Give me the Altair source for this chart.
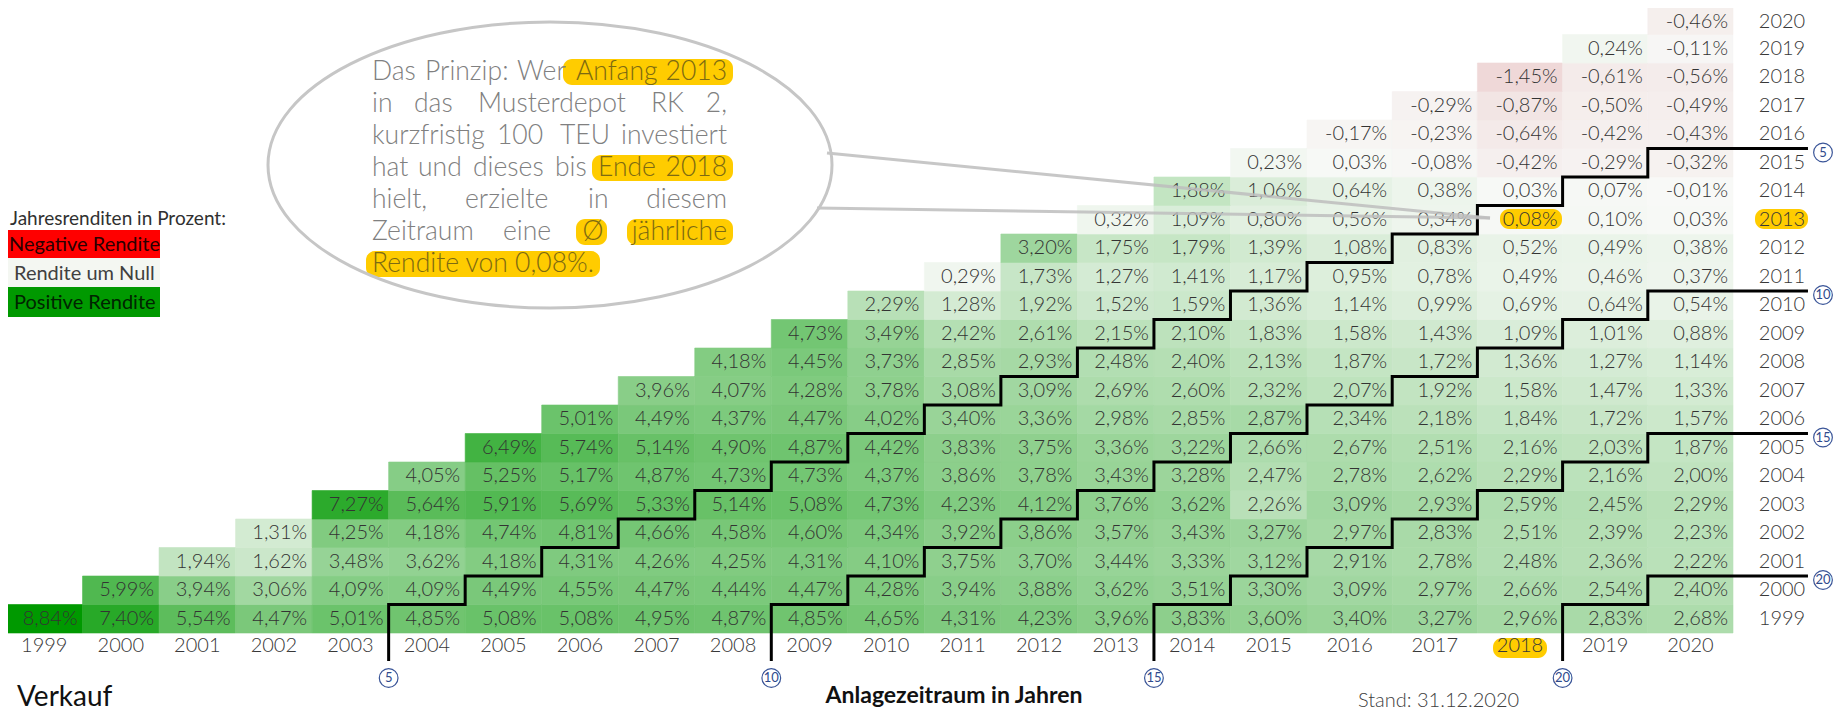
import altair as alt
import pandas as pd

# ------------------------------------------------------------------ data
sell_years = list(range(1999, 2021))
buy_years = list(range(1999, 2021))

ret_1999 = [8.84, 7.40, 5.54, 4.47, 5.01, 4.85, 5.08, 5.08, 4.95, 4.87, 4.85, 4.65, 4.31, 4.23, 3.96, 3.83, 3.60, 3.40, 3.27, 2.96, 2.83, 2.68]
ret_2000 = [5.99, 3.94, 3.06, 4.09, 4.09, 4.49, 4.55, 4.47, 4.44, 4.47, 4.28, 3.94, 3.88, 3.62, 3.51, 3.30, 3.09, 2.97, 2.66, 2.54, 2.40]
ret_2001 = [1.94, 1.62, 3.48, 3.62, 4.18, 4.31, 4.26, 4.25, 4.31, 4.10, 3.75, 3.70, 3.44, 3.33, 3.12, 2.91, 2.78, 2.48, 2.36, 2.22]
ret_2002 = [1.31, 4.25, 4.18, 4.74, 4.81, 4.66, 4.58, 4.60, 4.34, 3.92, 3.86, 3.57, 3.43, 3.27, 2.97, 2.83, 2.51, 2.39, 2.23]
ret_2003 = [7.27, 5.64, 5.91, 5.69, 5.33, 5.14, 5.08, 4.73, 4.23, 4.12, 3.76, 3.62, 2.26, 3.09, 2.93, 2.59, 2.45, 2.29]
ret_2004 = [4.05, 5.25, 5.17, 4.87, 4.73, 4.73, 4.37, 3.86, 3.78, 3.43, 3.28, 2.47, 2.78, 2.62, 2.29, 2.16, 2.00]
ret_2005 = [6.49, 5.74, 5.14, 4.90, 4.87, 4.42, 3.83, 3.75, 3.36, 3.22, 2.66, 2.67, 2.51, 2.16, 2.03, 1.87]
ret_2006 = [5.01, 4.49, 4.37, 4.47, 4.02, 3.40, 3.36, 2.98, 2.85, 2.87, 2.34, 2.18, 1.84, 1.72, 1.57]
ret_2007 = [3.96, 4.07, 4.28, 3.78, 3.08, 3.09, 2.69, 2.60, 2.32, 2.07, 1.92, 1.58, 1.47, 1.33]
ret_2008 = [4.18, 4.45, 3.73, 2.85, 2.93, 2.48, 2.40, 2.13, 1.87, 1.72, 1.36, 1.27, 1.14]
ret_2009 = [4.73, 3.49, 2.42, 2.61, 2.15, 2.10, 1.83, 1.58, 1.43, 1.09, 1.01, 0.88]
ret_2010 = [2.29, 1.28, 1.92, 1.52, 1.59, 1.36, 1.14, 0.99, 0.69, 0.64, 0.54]
ret_2011 = [0.29, 1.73, 1.27, 1.41, 1.17, 0.95, 0.78, 0.49, 0.46, 0.37]
ret_2012 = [3.20, 1.75, 1.79, 1.39, 1.08, 0.83, 0.52, 0.49, 0.38]
ret_2013 = [0.32, 1.09, 0.80, 0.56, 0.34, 0.08, 0.10, 0.03]
ret_2014 = [1.88, 1.06, 0.64, 0.38, 0.03, 0.07, -0.01]
ret_2015 = [0.23, 0.03, -0.08, -0.42, -0.29, -0.32]
ret_2016 = [-0.17, -0.23, -0.64, -0.42, -0.43]
ret_2017 = [-0.29, -0.87, -0.50, -0.49]
ret_2018 = [-1.45, -0.61, -0.56]
ret_2019 = [0.24, -0.11]
ret_2020 = [-0.46]

returns_by_buy_year = {
    1999: ret_1999, 2000: ret_2000, 2001: ret_2001, 2002: ret_2002, 2003: ret_2003,
    2004: ret_2004, 2005: ret_2005, 2006: ret_2006, 2007: ret_2007, 2008: ret_2008,
    2009: ret_2009, 2010: ret_2010, 2011: ret_2011, 2012: ret_2012, 2013: ret_2013,
    2014: ret_2014, 2015: ret_2015, 2016: ret_2016, 2017: ret_2017, 2018: ret_2018,
    2019: ret_2019, 2020: ret_2020,
}

holding_periods = [5, 10, 15, 20]

legend_labels = ["Negative Rendite", "Rendite um Null", "Positive Rendite"]
legend_colors = ["#ff0000", "#f4f7f2", "#009900"]
legend_text_colors = ["#2a0000", "#404040", "#002400"]

callout_lines = [
    "Das Prinzip: Wer Anfang 2013",
    "in das Musterdepot RK 2,",
    "kurzfristig 100 TEU investiert",
    "hat und dieses bis Ende 2018",
    "hielt, erzielte in diesem",
    "Zeitraum eine Ø jährliche",
    "Rendite von 0,08%.",
]
highlighted_words = {"Anfang", "2013", "Ende", "2018", "Ø", "jährliche", "Rendite von 0,08%."}

# ------------------------------------------------------------------ layout (pixels, chart coordinates)
W, H = 1831, 703
FONT = "Lato"
XS = alt.Scale(domain=[1998.5, 2015.5, 2020.5], range=[-2, 1299, 1725], nice=False, zero=False)
YS = alt.Scale(domain=[1998.5, 2020.5], range=[625, -2], nice=False, zero=False)
CS = alt.Scale(domain=[-8.84, 0, 8.84], range=["#c0303a", "#f8f9f7", "#009900"], interpolate="rgb")

X_EXT_RIGHT = 2021.38     # end of the staircase lines on the right
Y_EXT_BOTTOM = 1997.52    # end of the staircase lines at the bottom
ROW_LABEL_PX = 1774
RIGHT_CIRCLE_PX = 1815
BOTTOM_CIRCLE_PX = 670
XLABEL_PX = 638
TOP_ROW_NUDGE = 2         # keeps the top row's labels inside the drawing

callout_line_baselines = [72, 104, 136, 168, 200, 232, 264]
callout_word_x = [
    [364, 417, 509, 568, 719],
    [364, 406, 470, 643, 719],
    [364, 489, 552, 719],
    [364, 410, 465, 547, 590, 719],
    [364, 457, 580, 719],
    [364, 495, 585, 719],
    [364],
]
highlight_boxes = [  # x0, x1, y0, y1
    (555, 725, 51, 77), (584, 725, 147, 173), (568, 599, 211, 237),
    (619, 725, 211, 237), (358, 592, 243, 269),
    (1485, 1539, 630, 650), (1747, 1800, 201, 221), (1492, 1554, 201, 221),
]

# ------------------------------------------------------------------ tables
cell_rows = []
for b, vals in returns_by_buy_year.items():
    for i, v in enumerate(vals):
        s = b + i
        cell_rows.append(dict(buy=b, sell=s, value=v, x0=s - 0.5, x1=s + 0.5,
                              y0=b - 0.5, y1=b + 0.5,
                              label=f"{v:.2f}".replace(".", ",") + "%"))
cells = pd.DataFrame(cell_rows)

stair_rows = []
for p in holding_periods:
    pts = [(1998.5 + p, Y_EXT_BOTTOM)]
    last = 2020 - p
    for b in range(1999, last + 1):
        pts.append((b + p - 0.5, b + 0.5))
        if b < last:
            pts.append((b + p + 0.5, b + 0.5))
    pts.append((X_EXT_RIGHT, last + 0.5))
    for k, (x, y) in enumerate(pts):
        stair_rows.append(dict(period=p, idx=k, x=x, y=y))
stairs = pd.DataFrame(stair_rows)

circ = pd.DataFrame({"period": holding_periods,
                     "bx": [1998.5 + p for p in holding_periods],
                     "ry": [2020 - p + 0.5 for p in holding_periods],
                     "lab": [str(p) for p in holding_periods]})

word_rows = []
for li, line in enumerate(callout_lines):
    words = [line] if li == len(callout_lines) - 1 else line.split(" ")
    for wi, w in enumerate(words):
        if len(words) == 1:
            al = "left"
        elif w == "Ø":
            al = "center"
        elif wi == len(words) - 1:
            al = "right"
        else:
            al = "left"
        word_rows.append(dict(t=w, x=callout_word_x[li][wi], y=callout_line_baselines[li], al=al,
                              c="#7d6a12" if w in highlighted_words else "#808080"))
words_df = pd.DataFrame(word_rows)

hl_df = pd.DataFrame(highlight_boxes, columns=["x0", "x1", "y0", "y1"])

# ------------------------------------------------------------------ layers
def PX(f):
    return alt.X(f, scale=None, axis=None)


def PY(f):
    return alt.Y(f, scale=None, axis=None)


cells_layer = alt.Chart(cells).mark_rect(strokeWidth=0.6).encode(
    x=alt.X("x0:Q", scale=XS, axis=None), x2="x1:Q",
    y=alt.Y("y0:Q", scale=YS, axis=None), y2="y1:Q",
    color=alt.Color("value:Q", scale=CS, legend=None),
    stroke=alt.Stroke("value:Q", scale=CS, legend=None),
)

hl_layer = alt.Chart(hl_df).mark_rect(cornerRadius=9, color="#ffcc00").encode(
    x=PX("x0:Q"), x2="x1:Q", y=PY("y0:Q"), y2="y1:Q")

top_year = max(buy_years)


def cell_text_layer(df, nudge):
    return alt.Chart(df).mark_text(
        align="right", baseline="middle", dx=-5, dy=nudge, font=FONT, fontSize=20, fontWeight=300,
        color="#333333"
    ).encode(x=alt.X("x1:Q", scale=XS, axis=None), y=alt.Y("buy:Q", scale=YS, axis=None), text="label:N")


cell_text = cell_text_layer(cells[cells.buy != top_year], 0)
cell_text_top = cell_text_layer(cells[cells.buy == top_year], TOP_ROW_NUDGE)

xlab = alt.Chart(pd.DataFrame({"year": sell_years})).mark_text(
    align="center", baseline="middle", font=FONT, fontSize=20, fontWeight=300, color="#383838"
).encode(x=alt.X("year:Q", scale=XS, axis=None), y=alt.value(XLABEL_PX), text="year:N")

ylab_df = pd.DataFrame({"year": buy_years})


def ylab_layer(df, nudge):
    return alt.Chart(df).mark_text(
        align="center", baseline="middle", dy=nudge, font=FONT, fontSize=20, fontWeight=300, color="#383838"
    ).encode(x=alt.value(ROW_LABEL_PX), y=alt.Y("year:Q", scale=YS, axis=None), text="year:N")


ylab = ylab_layer(ylab_df[ylab_df.year != top_year], 0)
ylab_top = ylab_layer(ylab_df[ylab_df.year == top_year], TOP_ROW_NUDGE)

stair_layer = alt.Chart(stairs).mark_line(color="black", strokeWidth=3, strokeJoin="miter").encode(
    x=alt.X("x:Q", scale=XS, axis=None), y=alt.Y("y:Q", scale=YS, axis=None),
    detail="period:N", order="idx:Q")

circ_b = alt.Chart(circ).mark_point(shape="circle", size=350, filled=False, stroke="#3a5598",
                                    strokeWidth=1.2, opacity=1).encode(
    x=alt.X("bx:Q", scale=XS, axis=None), y=alt.value(BOTTOM_CIRCLE_PX))
circ_bt = alt.Chart(circ).mark_text(font=FONT, fontSize=13, color="#2f4a8c", baseline="middle").encode(
    x=alt.X("bx:Q", scale=XS, axis=None), y=alt.value(BOTTOM_CIRCLE_PX), text="lab:N")
circ_r = alt.Chart(circ).mark_point(shape="circle", size=350, filled=False, stroke="#3a5598",
                                    strokeWidth=1.2, opacity=1, yOffset=4).encode(
    x=alt.value(RIGHT_CIRCLE_PX), y=alt.Y("ry:Q", scale=YS, axis=None))
circ_rt = alt.Chart(circ).mark_text(font=FONT, fontSize=13, color="#2f4a8c", baseline="middle", yOffset=4).encode(
    x=alt.value(RIGHT_CIRCLE_PX), y=alt.Y("ry:Q", scale=YS, axis=None), text="lab:N")

# callout: pointer wedge + ellipse
pointer = pd.DataFrame({"x": [819, 809], "y": [145, 200], "x2": [1482, 1482], "y2": [210, 210]})
pointer_layer = alt.Chart(pointer).mark_rule(color="#bdbdbd", strokeWidth=3, opacity=0.85).encode(
    x=PX("x:Q"), y=PY("y:Q"), x2="x2:Q", y2="y2:Q")

k = 0.507
kk = round(k * 0.5523, 4)
ellipse_path = (f"M-1,0 C-1,{-kk} -0.5523,{-k} 0,{-k} C0.5523,{-k} 1,{-kk} 1,0 "
                f"C1,{kk} 0.5523,{k} 0,{k} C-0.5523,{k} -1,{kk} -1,0 Z")
ellipse_layer = alt.Chart(pd.DataFrame({"a": [0]})).mark_point(
    shape=ellipse_path, size=564 ** 2, filled=False, stroke="#c6c6c6", strokeWidth=3, opacity=1
).encode(x=alt.value(542), y=alt.value(157))

word_layers = []
for al in ["left", "right", "center"]:
    d = words_df[words_df.al == al]
    word_layers.append(alt.Chart(d).mark_text(
        align=al, baseline="alphabetic", font=FONT, fontSize=26.5, fontWeight=300
    ).encode(x=PX("x:Q"), y=PY("y:Q"), text="t:N", color=alt.Color("c:N", scale=None)))

# legend
leg = pd.DataFrame({"lab": legend_labels, "fill": legend_colors, "tc": legend_text_colors,
                    "y0": [222, 250, 279], "y1": [250, 279, 309], "tx": [1, 6, 6]})
leg_rect = alt.Chart(leg).mark_rect().encode(
    x=alt.value(-2), x2=alt.value(152), y=PY("y0:Q"), y2="y1:Q", color=alt.Color("fill:N", scale=None))
leg_text = alt.Chart(leg).mark_text(align="left", baseline="middle", font=FONT, fontSize=20, fontWeight=400,
                                    dy=1).transform_calculate(
    ym="(datum.y0 + datum.y1) / 2").encode(
    x=PX("tx:Q"), y=PY("ym:Q"), text="lab:N", color=alt.Color("tc:N", scale=None))
leg_title = alt.Chart(pd.DataFrame({"t": ["Jahresrenditen in Prozent:"]})).mark_text(
    align="left", baseline="middle", font=FONT, fontSize=19, fontWeight=400, color="#303030"
).encode(x=alt.value(2), y=alt.value(211), text="t:N")

# titles
verkauf = alt.Chart(pd.DataFrame({"t": ["Verkauf"]})).mark_text(
    align="left", baseline="alphabetic", font=FONT, fontSize=28, color="#111111"
).encode(x=alt.value(9), y=alt.value(698), text="t:N")
xtitle = alt.Chart(pd.DataFrame({"t": ["Anlagezeitraum in Jahren"]})).mark_text(
    align="center", baseline="alphabetic", font=FONT, fontSize=23, fontWeight="bold", color="#111111"
).encode(x=alt.value(946), y=alt.value(695), text="t:N")
stand = alt.Chart(pd.DataFrame({"t": ["Stand: 31.12.2020"]})).mark_text(
    align="left", baseline="alphabetic", font=FONT, fontSize=20, fontWeight=300, color="#404040"
).encode(x=alt.value(1350), y=alt.value(699), text="t:N")

chart = alt.layer(
    cells_layer, hl_layer, cell_text, cell_text_top, xlab, ylab, ylab_top, stair_layer,
    circ_b, circ_bt, circ_r, circ_rt,
    pointer_layer, ellipse_layer, *word_layers,
    leg_rect, leg_text, leg_title, verkauf, xtitle, stand,
).resolve_scale(
    x="independent", y="independent", color="independent", stroke="independent"
).properties(
    width=W, height=H, padding=0, autosize=alt.AutoSizeParams(type="none"), background="white"
).configure_view(stroke=None)

chart.save("out.html", embed_options={"renderer": "svg", "actions": False})
